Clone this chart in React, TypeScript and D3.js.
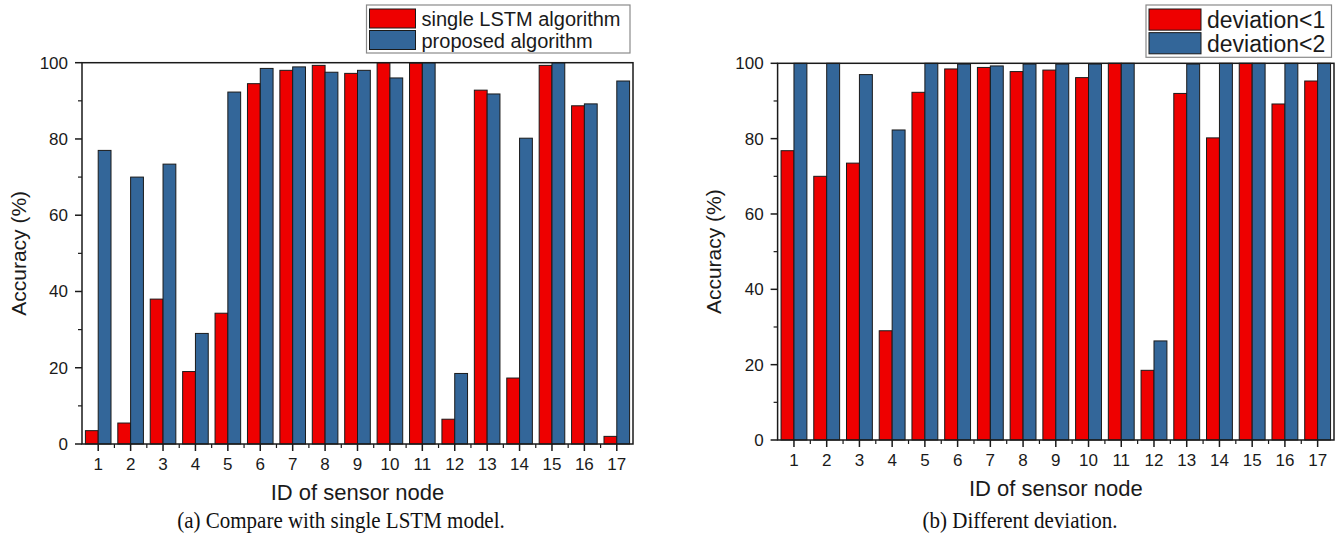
import React from "react";
import * as d3 from "d3";

// Sensor node IDs on the x axis
const nodeIds = ["1", "2", "3", "4", "5", "6", "7", "8", "9", "10", "11", "12", "13", "14", "15", "16", "17"];

// (a) accuracy (%) of the single LSTM model vs. the proposed algorithm
const singleLstm = [3.5, 5.5, 38, 19, 34.3, 94.5, 98, 99.3, 97.2, 100, 99.9, 6.5, 92.8, 17.3, 99.3, 88.7, 2];
const proposed = [77, 70, 73.4, 29, 92.3, 98.5, 98.9, 97.5, 98, 96, 100, 18.5, 91.8, 80.2, 100, 89.2, 95.2];

// (b) accuracy (%) under two deviation thresholds
const deviation1 = [76.8, 70, 73.5, 29, 92.3, 98.5, 98.9, 97.8, 98.2, 96.2, 100, 18.5, 92, 80.2, 100, 89.2, 95.3];
const deviation2 = [100, 100, 97, 82.3, 100, 99.8, 99.3, 99.8, 99.8, 99.8, 100, 26.3, 99.8, 100, 100, 100, 100];

const yTicks = [0, 20, 40, 60, 80, 100];
const yMinorTicks = [10, 30, 50, 70, 90];

const RED = "#ee0000";
const BLUE = "#336699";
const INK = "#1a1a1a";
const SANS = "'Liberation Sans', Arial, sans-serif";
const SERIF = "'Liberation Serif', 'Times New Roman', serif";

type PanelProps = {
  left: number;
  right: number;
  top: number;
  bottom: number;
  seriesA: number[];
  seriesB: number[];
  labelA: string;
  labelB: string;
  legend: { x0: number; x1: number; y0: number; y1: number; sw: number; fs: number };
  titleX: number;
  caption: string;
  captionX: number;
};

function Panel(p: PanelProps) {
  const x = d3.scaleBand<string>().domain(nodeIds).range([p.left, p.right]).paddingInner(0.21).paddingOuter(0.105);
  const step = x.step();
  const inner = d3.scaleBand<string>().domain(["a", "b"]).range([0, x.bandwidth()]).padding(0);
  const y = d3.scaleLinear().domain([0, 100]).range([p.bottom, p.top]);
  const centers = nodeIds.map((id) => (x(id) as number) + x.bandwidth() / 2);
  const minorX = nodeIds.slice(0, -1).map((id) => (x(id) as number) + x.bandwidth() / 2 + step / 2);

  const lg = p.legend;
  const rowH = (lg.y1 - lg.y0 - 8) / 2;
  const rows = [
    { label: p.labelA, color: RED },
    { label: p.labelB, color: BLUE },
  ];

  return (
    <g>
      {/* bars */}
      {nodeIds.map((id, i) => {
        const gx = x(id) as number;
        return (
          <g key={id}>
            <rect
              x={gx + (inner("a") as number)}
              y={y(p.seriesA[i])}
              width={inner.bandwidth()}
              height={y(0) - y(p.seriesA[i])}
              fill={RED}
              stroke={INK}
              strokeWidth={1}
            />
            <rect
              x={gx + (inner("b") as number)}
              y={y(p.seriesB[i])}
              width={inner.bandwidth()}
              height={y(0) - y(p.seriesB[i])}
              fill={BLUE}
              stroke={INK}
              strokeWidth={1}
            />
          </g>
        );
      })}

      {/* frame */}
      <rect x={p.left} y={p.top} width={p.right - p.left} height={p.bottom - p.top} fill="none" stroke={INK} strokeWidth={1.5} />

      {/* y axis ticks */}
      {yTicks.map((t) => (
        <g key={"y" + t}>
          <line x1={p.left - 7} x2={p.left} y1={y(t)} y2={y(t)} stroke={INK} strokeWidth={1.5} />
          <text x={p.left - 14} y={y(t) + 6} textAnchor="end" fontFamily={SANS} fontSize={17} fill={INK}>
            {t}
          </text>
        </g>
      ))}
      {yMinorTicks.map((t) => (
        <line key={"ym" + t} x1={p.left - 4} x2={p.left} y1={y(t)} y2={y(t)} stroke={INK} strokeWidth={1.2} />
      ))}

      {/* x axis ticks */}
      {nodeIds.map((id, i) => (
        <g key={"x" + id}>
          <line x1={centers[i]} x2={centers[i]} y1={p.bottom} y2={p.bottom + 7} stroke={INK} strokeWidth={1.5} />
          <text x={centers[i]} y={p.bottom + 26} textAnchor="middle" fontFamily={SANS} fontSize={17} fill={INK}>
            {id}
          </text>
        </g>
      ))}
      {minorX.map((mx, i) => (
        <line key={"xm" + i} x1={mx} x2={mx} y1={p.bottom} y2={p.bottom + 4} stroke={INK} strokeWidth={1.2} />
      ))}

      {/* axis titles */}
      <text x={(p.left + p.right) / 2} y={p.bottom + 56} textAnchor="middle" fontFamily={SANS} fontSize={22} fill={INK}>
        ID of sensor node
      </text>
      <text
        transform={`translate(${p.titleX},${(p.top + p.bottom) / 2}) rotate(-90)`}
        textAnchor="middle"
        fontFamily={SANS}
        fontSize={21}
        fill={INK}
      >
        Accuracy (%)
      </text>

      {/* legend */}
      <rect x={lg.x0} y={lg.y0} width={lg.x1 - lg.x0} height={lg.y1 - lg.y0} fill="#fff" stroke="#8a8a8a" strokeWidth={1.2} />
      {rows.map((r, i) => {
        const ry = lg.y0 + 4 + i * (rowH + 1.5);
        return (
          <g key={r.label}>
            <rect x={lg.x0 + 3} y={ry} width={lg.sw} height={rowH - 1} fill={r.color} stroke={INK} strokeWidth={1} />
            <text x={lg.x0 + lg.sw + 9} y={ry + rowH / 2 + lg.fs * 0.35} fontFamily={SANS} fontSize={lg.fs} fill={INK}>
              {r.label}
            </text>
          </g>
        );
      })}

      {/* caption, set in a slightly condensed serif */}
      <text
        transform={`translate(${p.captionX},528) scale(1,1.14)`}
        textAnchor="middle"
        fontFamily={SERIF}
        fontSize={21}
        fill="#111"
      >
        {p.caption}
      </text>
    </g>
  );
}

export default function App() {
  return (
    <div style={{ position: "absolute", left: 0, top: 0 }}>
      <svg width={1343} height={534} style={{ display: "block", background: "#fff" }}>
        <Panel
          left={82}
          right={633}
          top={62.7}
          bottom={444}
          seriesA={singleLstm}
          seriesB={proposed}
          labelA="single LSTM algorithm"
          labelB="proposed algorithm"
          legend={{ x0: 366.5, x1: 630, y0: 5, y1: 53, sw: 46, fs: 20 }}
          titleX={26}
          caption="(a) Compare with single LSTM model."
          captionX={341}
        />
        <Panel
          left={777.6}
          right={1334}
          top={63.3}
          bottom={440}
          seriesA={deviation1}
          seriesB={deviation2}
          labelA="deviation<1"
          labelB="deviation<2"
          legend={{ x0: 1146, x1: 1331.5, y0: 5, y1: 57.3, sw: 52, fs: 23 }}
          titleX={721}
          caption="(b) Different deviation."
          captionX={1020}
        />
      </svg>
    </div>
  );
}
